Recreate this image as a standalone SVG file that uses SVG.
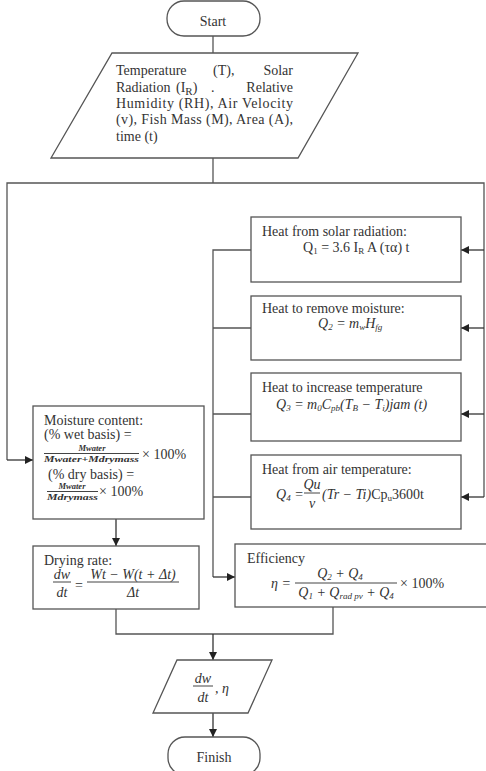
<svg xmlns="http://www.w3.org/2000/svg" width="486" height="771" viewBox="0 0 486 771">
<defs>
<marker id="ah" viewBox="0 0 10 10" refX="10" refY="5" markerWidth="8" markerHeight="8" markerUnits="userSpaceOnUse" orient="auto">
<path d="M0,0 L10,5 L0,10 z" fill="#222"/>
</marker>
<style>
.box{fill:#fff;stroke:#555;stroke-width:1.3}
.ln{fill:none;stroke:#555;stroke-width:1.3}
.ar{fill:none;stroke:#333;stroke-width:1.3;marker-end:url(#ah)}
.fl{stroke:#444;stroke-width:1}
text{font-family:"Liberation Serif","Times New Roman",serif;fill:#333;font-size:14px}
.m{font-style:italic}
.s{font-size:11px}
.xs{font-size:9px}
.c{text-anchor:middle}
.fr{font-size:8.5px;font-style:italic;font-weight:bold}
</style>
</defs>
<rect width="486" height="771" fill="#fff"/>

<g id="connectors">
<line class="ln" x1="213" y1="36" x2="213" y2="53"/>
<line class="ln" x1="213" y1="158" x2="213" y2="183"/>
<polyline class="ln" points="7,460 7,183 484,183 484,497"/>
<line class="ar" x1="7" y1="460" x2="33" y2="460"/>
<line class="ar" x1="484" y1="250" x2="461" y2="250"/>
<line class="ar" x1="484" y1="328" x2="461" y2="328"/>
<line class="ar" x1="484" y1="414" x2="461" y2="414"/>
<line class="ar" x1="484" y1="497" x2="461" y2="497"/>
<polyline class="ln" points="251,250 213,250 213,577"/>
<line class="ar" x1="213" y1="577" x2="235" y2="577"/>
<line class="ln" x1="213" y1="328" x2="251" y2="328"/>
<line class="ln" x1="213" y1="414" x2="251" y2="414"/>
<line class="ln" x1="213" y1="497" x2="251" y2="497"/>
<line class="ar" x1="116" y1="519" x2="116" y2="546"/>
<polyline class="ln" points="116,609 116,634 333,634 333,607"/>
<line class="ar" x1="213" y1="634" x2="213" y2="660"/>
<line class="ar" x1="213" y1="713" x2="213" y2="737"/>
</g>

<g id="start">
<rect class="box" x="167" y="1" width="93" height="35" rx="17" ry="17"/>
<text class="c" x="213" y="26" font-size="13">Start</text>
</g>

<g id="input">
<polygon class="box" points="112,53 358,53 298,158 51,158"/>
<text x="116" y="75">Temperature</text>
<text x="213" y="75">(T),</text>
<text x="293" y="75" text-anchor="end">Solar</text>
<text x="116" y="92">Radiation</text>
<text x="176" y="92">(I<tspan class="s" dy="3">R</tspan><tspan dy="-3">)</tspan></text>
<text x="211" y="92">.</text>
<text x="293" y="92" text-anchor="end">Relative</text>
<text x="116" y="108" textLength="177" lengthAdjust="spacing">Humidity (RH), Air Velocity</text>
<text x="116" y="124" textLength="177" lengthAdjust="spacing">(v), Fish Mass (M), Area (A),</text>
<text x="116" y="141">time (t)</text>
</g>

<g id="moisture">
<rect class="box" x="33" y="406" width="171" height="113"/>
<text x="44" y="425">Moisture content:</text>
<text x="44" y="439" font-size="12">(% wet basis) =</text>
<text class="c fr" x="92" y="451">Mwater</text>
<line class="fl" x1="44" y1="453.5" x2="139" y2="453.5"/>
<text class="fr" x="44" y="462" textLength="95" lengthAdjust="spacingAndGlyphs">Mwater+Mdrymass</text>
<text x="142" y="459" font-size="13">× 100%</text>
<text x="48" y="479" font-size="12">(% dry basis) =</text>
<text class="c fr" x="72" y="489">Mwater</text>
<line class="fl" x1="47" y1="491.5" x2="98" y2="491.5"/>
<text class="fr" x="47" y="500" textLength="51" lengthAdjust="spacingAndGlyphs">Mdrymass</text>
<text x="99" y="496" font-size="13">× 100%</text>
</g>

<g id="drying">
<rect class="box" x="33" y="546" width="166" height="63"/>
<text x="44" y="565">Drying rate:</text>
<text class="c m" x="62" y="579" font-size="13">dw</text>
<line class="fl" x1="53" y1="582" x2="71" y2="582"/>
<text class="c m" x="62" y="597" font-size="13">dt</text>
<text class="c" x="79" y="590" font-size="13">=</text>
<text class="c m" x="133" y="579" font-size="13">Wt − W(t + Δt)</text>
<line class="fl" x1="87" y1="582" x2="179" y2="582"/>
<text class="c m" x="133" y="597" font-size="13">Δt</text>
</g>

<g id="q1">
<rect class="box" x="251" y="217" width="210" height="65"/>
<text x="262" y="236">Heat from solar radiation:</text>
<text x="303" y="252" font-size="12.5">Q<tspan class="xs" dy="2">1</tspan><tspan dy="-2"> = 3.6 I</tspan><tspan class="xs" dy="2">R</tspan><tspan dy="-2"> A (τα) t</tspan></text>
</g>

<g id="q2">
<rect class="box" x="251" y="296" width="210" height="64"/>
<text x="262" y="313">Heat to remove moisture:</text>
<text class="m" x="318" y="328" font-size="13">Q<tspan class="xs" dy="2">2</tspan><tspan dy="-2"> = m</tspan><tspan class="xs" dy="2">w</tspan><tspan dy="-2">H</tspan><tspan class="xs" dy="2">fg</tspan></text>
</g>

<g id="q3">
<rect class="box" x="251" y="373" width="210" height="68"/>
<text x="262" y="392">Heat to increase temperature</text>
<text class="m" x="276" y="409" font-size="13">Q<tspan class="xs" dy="2">3</tspan><tspan dy="-2"> = m</tspan><tspan class="xs" dy="2">0</tspan><tspan dy="-2">C</tspan><tspan class="xs" dy="2">pb</tspan><tspan dy="-2">(T</tspan><tspan class="xs" dy="2">B</tspan><tspan dy="-2"> − T</tspan><tspan class="xs" dy="2">i</tspan><tspan dy="-2">)jam (t)</tspan></text>
</g>

<g id="q4">
<rect class="box" x="251" y="455" width="210" height="74"/>
<text x="262" y="474">Heat from air temperature:</text>
<text class="m" x="276" y="499" font-size="13">Q<tspan class="xs" dy="2">4</tspan><tspan dy="-2"> =</tspan></text>
<text class="c m" x="312" y="489" font-size="13">Qu</text>
<line class="fl" x1="304" y1="493" x2="320" y2="493"/>
<text class="c m" x="312" y="508" font-size="13">v</text>
<text class="m" x="322" y="499" font-size="13">(Tr − Ti)<tspan font-style="normal">Cp</tspan><tspan class="xs" dy="2" font-style="normal">u</tspan><tspan dy="-2" font-style="normal">3600t</tspan></text>
</g>

<g id="efficiency">
<rect class="box" x="235" y="544" width="260" height="63"/>
<text x="247" y="563">Efficiency</text>
<text class="m" x="271" y="588" font-size="13">η =</text>
<text class="c m" x="340" y="578" font-size="13">Q<tspan class="xs" dy="2">2</tspan><tspan dy="-2"> + Q</tspan><tspan class="xs" dy="2">4</tspan></text>
<line class="fl" x1="295" y1="583" x2="397" y2="583"/>
<text class="c m" x="346" y="597" font-size="13">Q<tspan class="xs" dy="2">1</tspan><tspan dy="-2"> + Q</tspan><tspan class="xs" dy="2">rad pv</tspan><tspan dy="-2"> + Q</tspan><tspan class="xs" dy="2">4</tspan></text>
<text x="400" y="588" font-size="13">× 100%</text>
</g>

<g id="output">
<polygon class="box" points="177,660 272,660 248,713 153,713"/>
<text class="c m" x="203" y="683" font-size="13">dw</text>
<line class="fl" x1="193" y1="686" x2="213" y2="686"/>
<text class="c m" x="203" y="702" font-size="13">dt</text>
<text class="m" x="215" y="693" font-size="13">, η</text>
</g>

<g id="finish">
<rect class="box" x="168" y="737" width="92" height="38" rx="17" ry="17"/>
<text class="c" x="214" y="762" font-size="13">Finish</text>
</g>
</svg>
